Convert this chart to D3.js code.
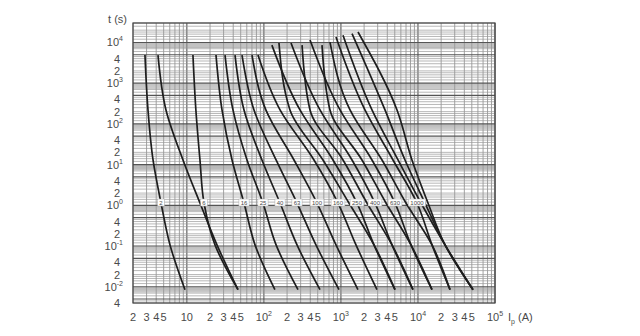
<!DOCTYPE html>
<html>
<head>
<meta charset="utf-8">
<script src="https://cdn.jsdelivr.net/npm/d3@7"></script>
<style>
    body { margin: 0; background: #fff; }
    svg text { font-family: "Liberation Sans", Arial, sans-serif; fill: #4a4a4a; }
</style>
</head>
<body>
<div id="chart" style="width:640px;height:336px;"></div>
<script>
// time-current curves of the fuses
var ratings = ["2", "", "6", "16", "25", "40", "63", "100", "160", "250", "400", "630", "1000", "",
    "", "", "", "", "", ""];
// time of the first point of each curve (s)
var topTimes = [4900, 4900, 4900, 4900, 4900, 4900, 4900, 4900, 4900, 8600, 9700, 11500, 13600, 18000,
    9700, 8600, 8600, 10200, 15000, 16500];
// times of the other points, shared by all curves (s)
var curveTimes = [220, 13, 1.14, 0.107, 0.0085];
// prospective current (A) at topTimes, then at curveTimes
var currents = [
    [2.86, 3.13, 3.64, 4.62, 6.04, 9.46],
    [4.22, 5.36, 8.91, 14.8, 24.6, 46.1],
    [12.0, 13.1, 14.8, 16.7, 23.2, 46.1],
    [23.9, 28.6, 38.6, 55.2, 76.7, 139],
    [31.3, 39.7, 60.4, 97.3, 144, 277],
    [42.2, 55.2, 94.4, 162, 269, 535],
    [52.0, 74.4, 144, 269, 474, 944],
    [70.1, 106, 246, 489, 863, 1665],
    [83.8, 162, 447, 916, 1568, 2938],
    [127, 294, 789, 1616, 2686, 5035],
    [225, 535, 1393, 2767, 4602, 8612],
    [397, 973, 2530, 5035, 8117, 15210],
    [863, 2050, 4742, 9706, 15210, 26060],
    [1665, 5346, 8360, 13490, 22440, 51760],
    // second branches between the curves above, joining them below 1 s
    [157, 218, 585, 1272, 2686, 5035],
    [313, 397, 1064, 2178, 4602, 8612],
    [568, 721, 1876, 3846, 8117, 15210],
    [721, 1312, 3414, 6994, 15210, 26060],
    [1064, 2530, 5508, 10950, 22440, 51760],
    [1393, 3732, 6788, 12330, 22440, 51760]
];
// axis ticks
var xTicks = [2, 3, 4, 5, 10, 20, 30, 40, 50, 100, 200, 300, 400, 500, 1000, 2000, 3000, 4000, 5000, 10000, 20000, 30000, 40000, 50000, 100000];
var xBase = ["2", "3", "4", "5", "10", "2", "3", "4", "5", "10", "2", "3", "4", "5", "10", "2", "3", "4", "5", "10", "2", "3", "4", "5", "10"];
var xSup = ["", "", "", "", "", "", "", "", "", "2", "", "", "", "", "3", "", "", "", "", "4", "", "", "", "", "5"];
var yTicks = [10000, 4000, 2000, 1000, 400, 200, 100, 40, 20, 10, 4, 2, 1, 0.4, 0.2, 0.1, 0.04, 0.02, 0.01, 0.004];
var yBase = ["10", "4", "2", "10", "4", "2", "10", "4", "2", "10", "4", "2", "10", "4", "2", "10", "4", "2", "10", "4"];
var ySup = ["4", "", "", "3", "", "", "2", "", "", "1", "", "", "0", "", "", "-1", "", "", "-2", ""];
// grid subdivisions inside a decade
var xGridSteps = [1, 2, 3, 4, 5, 6, 7, 8, 9];
var yGridSteps = [1, 1.2, 1.4, 1.6, 1.8, 2, 2.5, 3, 3.5, 4, 4.5, 5, 6, 7, 7.5, 8, 8.5, 9, 9.5];

class FuseChart {
    constructor(_element) {
        this.element = _element;
        this.initVis();
    }
    initVis() {
        var vis = this;
        vis.margin = { left: 133, right: 145, top: 23, bottom: 33 };
        vis.width = 640 - vis.margin.left - vis.margin.right;
        vis.height = 336 - vis.margin.top - vis.margin.bottom;
        vis.svg = d3.select(vis.element)
            .append("svg")
            .attr("width", 640)
            .attr("height", 336);
        vis.g = vis.svg.append("g")
            .attr("transform", "translate(" + vis.margin.left + "," + vis.margin.top + ")");

        vis.x = d3.scaleLog().domain([2, 100000]).range([0, vis.width]);
        vis.y = d3.scaleLog().domain([0.004, 30000]).range([vis.height, 0]);

        vis.drawGrid();
        vis.drawAxes();
        vis.drawCurves();
    }
    drawGrid() {
        var vis = this;
        var xLines = [], yLines = [];
        for (var e = 0; e <= 5; e++) {
            xGridSteps.forEach(function (m) {
                var v = m * Math.pow(10, e);
                if (v >= 2 && v <= 100000) xLines.push({ v: v, major: m === 1 });
            });
        }
        for (var e = -3; e <= 4; e++) {
            yGridSteps.forEach(function (m) {
                var v = m * Math.pow(10, e);
                if (v >= 0.004 && v <= 30000) yLines.push({ v: v, major: m === 1 || m === 5 });
            });
        }
        var grid = vis.g.append("g").attr("class", "grid");
        grid.selectAll("line.v")
            .data(xLines)
            .enter().append("line")
            .attr("class", "v")
            .attr("x1", d => vis.x(d.v))
            .attr("x2", d => vis.x(d.v))
            .attr("y1", 0)
            .attr("y2", vis.height)
            .attr("stroke", d => d.major ? "#555" : "#8a8a8a")
            .attr("stroke-width", d => d.major ? 1.1 : 0.8);
        grid.selectAll("line.h")
            .data(yLines)
            .enter().append("line")
            .attr("class", "h")
            .attr("x1", 0)
            .attr("x2", vis.width)
            .attr("y1", d => vis.y(d.v))
            .attr("y2", d => vis.y(d.v))
            .attr("stroke", d => d.major ? "#555" : "#9a9a9a")
            .attr("stroke-width", d => d.major ? 1.1 : 0.7);
        vis.g.append("rect")
            .attr("width", vis.width)
            .attr("height", vis.height)
            .attr("fill", "none")
            .attr("stroke", "#444")
            .attr("stroke-width", 1.2);
    }
    drawAxes() {
        var vis = this;
        var xl = vis.g.selectAll("text.xl")
            .data(xTicks)
            .enter().append("text")
            .attr("class", "xl")
            .attr("x", d => vis.x(d))
            .attr("y", vis.height + 18)
            .attr("font-size", "11px")
            .attr("text-anchor", "middle");
        xl.append("tspan").text((d, i) => xBase[i]);
        xl.append("tspan")
            .attr("dy", -5)
            .attr("font-size", "7px")
            .text((d, i) => xSup[i]);

        var yl = vis.g.selectAll("text.yl")
            .data(yTicks)
            .enter().append("text")
            .attr("class", "yl")
            .attr("x", d => -10)
            .attr("y", d => vis.y(d) + 4)
            .attr("font-size", "11px")
            .attr("text-anchor", "end");
        yl.append("tspan").text((d, i) => yBase[i]);
        yl.append("tspan")
            .attr("dy", -5)
            .attr("font-size", "7px")
            .text((d, i) => ySup[i]);
        yl.filter((d, i) => ySup[i] === "")
            .attr("x", -13);

        vis.g.append("text")
            .attr("x", -6)
            .attr("y", 0)
            .attr("font-size", "11px")
            .attr("text-anchor", "end")
            .text("t (s)");

        var unit = vis.g.append("text")
            .attr("x", vis.width + 13)
            .attr("y", vis.height + 18)
            .attr("font-size", "11px");
        unit.append("tspan").text("I");
        unit.append("tspan").attr("dy", 3).attr("font-size", "7px").text("p");
        unit.append("tspan").attr("dy", -3).text(" (A)");
    }
    drawCurves() {
        var vis = this;
        var curves = currents.map(function (row, i) {
            return row.map(function (c, j) {
                return { I: c, t: j === 0 ? topTimes[i] : curveTimes[j - 1] };
            });
        });
        var line = d3.line()
            .x(d => vis.x(d.I))
            .y(d => vis.y(d.t))
            .curve(d3.curveMonotoneY);
        vis.g.selectAll("path.fuse")
            .data(curves)
            .enter().append("path")
            .attr("class", "fuse")
            .attr("d", line)
            .attr("fill", "none")
            .attr("stroke", "#1e1e1e")
            .attr("stroke-width", 1.7);

        // rating labels sit on the curves at about 1 s
        var labels = vis.g.selectAll("g.rating")
            .data(curves.filter((d, i) => ratings[i] !== ""))
            .enter().append("g")
            .attr("class", "rating")
            .attr("transform", d => "translate(" + vis.x(d[3].I) + "," + vis.y(d[3].t) + ")");
        var names = ratings.filter(r => r !== "");
        labels.append("rect")
            .attr("x", (d, i) => -names[i].length * 1.8 - 1.5)
            .attr("y", -4)
            .attr("width", (d, i) => names[i].length * 3.6 + 3)
            .attr("height", 7)
            .attr("fill", "#fff")
            .attr("stroke", "#aaa")
            .attr("stroke-width", 0.5);
        labels.append("text")
            .attr("y", 2)
            .attr("font-size", "6px")
            .attr("text-anchor", "middle")
            .text((d, i) => names[i]);
    }
}

new FuseChart("#chart");
</script>
</body>
</html>
